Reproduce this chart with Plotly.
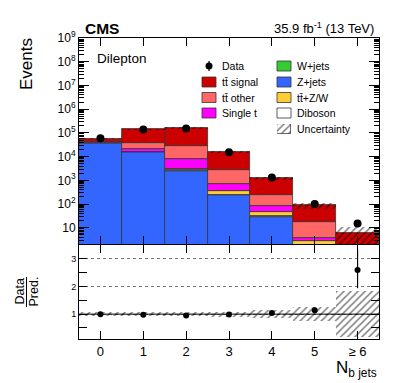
import numpy as np
import plotly.graph_objects as go

# N_b jets bins
nbjets = [0, 1, 2, 3, 4, 5, 6]
bin_labels = ["0", "1", "2", "3", "4", "5", "\u2265 6"]

# predicted yields per process (stacked bottom -> top)
zjets = [3.6e4, 1.5e4, 2400, 230, 29, 0.5, 0.05]
wjets = [200, 40, 10, 1, 0.1, 0, 0]
diboson = [300, 50, 250, 20, 2, 0.3, 0.05]
ttv = [50, 150, 200, 100, 17, 1.9, 0.1]
single_t = [800, 6000, 5000, 370, 34, 1.1, 0.1]
tt_other = [3000, 1.8e4, 1.9e4, 2100, 165, 13.6, 0.3]
tt_signal = [1.7e4, 1.0e5, 1.33e5, 1.27e4, 1000, 70, 5.2]

# relative uncertainty of the prediction
rel_unc = [0.08, 0.08, 0.08, 0.09, 0.14, 0.26, 0.82]

# observed data
data = [5.9e4, 1.38e5, 1.52e5, 1.53e4, 1300, 100, 15]

# data / prediction
ratio = [1.0, 0.98, 0.95, 0.99, 1.04, 1.14, 2.6]
ratio_err_up = [0.005, 0.003, 0.003, 0.01, 0.03, 0.1, 0.75]
ratio_err_dn = [0.005, 0.003, 0.003, 0.01, 0.03, 0.1, 0.66]

FONT = "Liberation Sans, Arial, sans-serif"
C_SIG = "#cc0000"
C_OTH = "#ff6666"
C_ST = "#ff00ff"
C_W = "#33cc33"
C_Z = "#3366ff"
C_TTV = "#ffcc33"
C_VV = "#ffffff"

stack = [("Z+jets", zjets, C_Z),
         ("W+jets", wjets, C_W),
         ("Diboson", diboson, C_VV),
         ("tt+Z/W", ttv, C_TTV),
         ("Single t", single_t, C_ST),
         ("tt other", tt_other, C_OTH),
         ("tt signal", tt_signal, C_SIG)]

fig = go.Figure()

base = np.zeros(len(nbjets))
for name, vals, col in stack:
    vals = np.array(vals, dtype=float)
    fig.add_trace(go.Bar(x=nbjets, y=vals, base=base.copy(), width=1, name=name,
                         marker=dict(color=col, line=dict(color="#333333", width=0.8)),
                         xaxis="x2", yaxis="y2"))
    base = base + vals
total = base
unc = np.array(rel_unc)

hatch = dict(shape="/", fgcolor="#000000", bgcolor="rgba(0,0,0,0)",
             size=5, solidity=0.3, fillmode="overlay")

# uncertainty band on the stack
fig.add_trace(go.Bar(x=nbjets, y=2 * total * unc, base=total * (1 - unc), width=1,
                     marker=dict(color="rgba(0,0,0,0)", pattern=hatch, line=dict(width=0)),
                     xaxis="x2", yaxis="y2"))

fig.add_trace(go.Scatter(x=nbjets, y=data, mode="markers",
                         marker=dict(color="black", size=8),
                         error_y=dict(type="data", array=np.sqrt(data), color="black",
                                      thickness=1.2, width=0),
                         xaxis="x2", yaxis="y2"))

# ratio panel
fig.add_trace(go.Bar(x=nbjets, y=2 * unc, base=1 - unc, width=1,
                     marker=dict(color="rgba(0,0,0,0)", pattern=hatch, line=dict(width=0)),
                     xaxis="x", yaxis="y"))
fig.add_trace(go.Scatter(x=nbjets, y=ratio, mode="markers",
                         marker=dict(color="black", size=6),
                         error_y=dict(type="data", array=ratio_err_up, arrayminus=ratio_err_dn,
                                      color="black", thickness=1.2, width=0),
                         xaxis="x", yaxis="y"))


# pixel -> paper helpers (plot area 79..379 x 38..339 in the window)
def px(x):
    return (x - 79) / 300.0


def py(y):
    return (339 - y) / 301.0


# legend hatch box lives on its own little axis pair
fig.add_trace(go.Bar(x=[0], y=[1], base=[0], width=1,
                     marker=dict(color="rgba(0,0,0,0)", pattern=hatch,
                                 line=dict(color="#333333", width=0.8)),
                     xaxis="x3", yaxis="y3"))

axis_common = dict(showline=True, linecolor="black", linewidth=1, mirror="ticks",
                   ticks="inside", tickcolor="black", showgrid=False, zeroline=False,
                   tickfont=dict(family=FONT, size=13, color="black"))

minor_log = [m * 10 ** k for k in range(0, 9) for m in range(2, 10)]

# page body adds an 8px offset, so figure is 391x375 with margins shifted by 8
fig.update_layout(
    width=391, height=375,
    margin=dict(l=71, r=20, t=30, b=44),
    plot_bgcolor="white", paper_bgcolor="white",
    showlegend=False, barmode="overlay", bargap=0,
    font=dict(family=FONT, color="black"),
    xaxis=dict(axis_common, domain=[0, 1], anchor="y", range=[-0.5, 6.5],
               tickvals=nbjets, ticktext=bin_labels, ticklen=8),
    xaxis2=dict(axis_common, domain=[0, 1], anchor="y2", range=[-0.5, 6.5],
                matches="x", tickvals=nbjets, showticklabels=False, ticklen=8),
    yaxis=dict(axis_common, domain=[0, 0.312], anchor="x", range=[0.1, 3.5],
               tickvals=[1, 2, 3], ticklen=8, tickfont=dict(family=FONT, size=9, color="black"),
               showgrid=True, gridcolor="#777777", griddash="dot", gridwidth=1,
               minor=dict(tickvals=[0.5, 1.5, 2.5, 3.5], ticks="inside", ticklen=8,
                          tickcolor="black")),
    yaxis2=dict(axis_common, domain=[0.316, 1], anchor="x2", type="log", range=[0.32, 9],
                tickvals=[10 ** k for k in range(1, 10)],
                ticktext=["10"] + ["10<sup>%d</sup>" % k for k in range(2, 10)],
                ticklen=10, tickfont=dict(family=FONT, size=12, color="black"),
                minor=dict(tickvals=minor_log, ticks="inside", ticklen=5, tickcolor="black")),
    xaxis3=dict(domain=[px(277), px(291)], anchor="y3", range=[-0.5, 0.5], visible=False),
    yaxis3=dict(domain=[py(134), py(124)], anchor="x3", range=[0, 1], visible=False),
)

# line at ratio = 1
fig.add_shape(type="line", xref="x domain", yref="y", x0=0, x1=1, y0=1, y1=1,
              line=dict(color="black", width=1), layer="above")

annots = [
    dict(text="<b>CMS</b>", x=px(83), y=py(28), xanchor="left", size=15.5),
    dict(text="35.9 fb<sup>-1</sup> (13 TeV)", x=px(376), y=py(28), xanchor="right", size=13),
    dict(text="Dilepton", x=px(95), y=py(58), xanchor="left", size=13.5),
    dict(text="N<sub>b jets</sub>", x=px(379), y=py(369), xanchor="right", size=17),
]
for a in annots:
    fig.add_annotation(text=a["text"], x=a["x"], y=a["y"], xref="paper", yref="paper",
                       xanchor=a["xanchor"], yanchor="middle", showarrow=False,
                       font=dict(family=FONT, size=a["size"], color="black"))

fig.add_annotation(text="Events", x=px(26), y=py(64), xref="paper", yref="paper",
                   textangle=-90, showarrow=False, xanchor="center", yanchor="middle",
                   font=dict(family=FONT, size=17, color="black"))
fig.add_annotation(text="Data", x=px(19.5), y=py(292), xref="paper", yref="paper",
                   textangle=-90, showarrow=False, xanchor="center", yanchor="middle",
                   font=dict(family=FONT, size=12.5, color="black"))
fig.add_annotation(text="Pred.", x=px(33.5), y=py(292), xref="paper", yref="paper",
                   textangle=-90, showarrow=False, xanchor="center", yanchor="middle",
                   font=dict(family=FONT, size=12.5, color="black"))
fig.add_shape(type="line", xref="paper", yref="paper", x0=px(26.5), x1=px(26.5),
              y0=py(277), y1=py(307), line=dict(color="black", width=1))

# legend
tt = "tt\u0304"
legend_items = [
    ("Data", None, 0, 0),
    (tt + " signal", C_SIG, 0, 1),
    (tt + " other", C_OTH, 0, 2),
    ("Single t", C_ST, 0, 3),
    ("W+jets", C_W, 1, 0),
    ("Z+jets", C_Z, 1, 1),
    (tt + "+Z/W", C_TTV, 1, 2),
    ("Diboson", C_VV, 1, 3),
    ("Uncertainty", "hatch", 1, 4),
]
col_x = [202, 277]
row_y = [66, 82, 97.5, 113, 129]
for label, col, c, r in legend_items:
    x0 = col_x[c]
    yc = row_y[r]
    if col is None:
        fig.add_shape(type="line", xref="paper", yref="paper", x0=px(x0 + 7), x1=px(x0 + 7),
                      y0=py(yc - 5), y1=py(yc + 5), line=dict(color="black", width=1.2))
        fig.add_shape(type="circle", xref="paper", yref="paper",
                      x0=px(x0 + 3.5), x1=px(x0 + 10.5), y0=py(yc + 3.5), y1=py(yc - 3.5),
                      fillcolor="black", line=dict(color="black", width=0))
    elif col != "hatch":
        fig.add_shape(type="rect", xref="paper", yref="paper", x0=px(x0), x1=px(x0 + 14),
                      y0=py(yc + 5), y1=py(yc - 5), fillcolor=col,
                      line=dict(color="#333333", width=0.8))
    fig.add_annotation(text=label, x=px(x0 + 18), y=py(yc), xref="paper", yref="paper",
                       xanchor="left", yanchor="middle", showarrow=False,
                       font=dict(family=FONT, size=10.5, color="black"))

fig.write_html("out.html")
